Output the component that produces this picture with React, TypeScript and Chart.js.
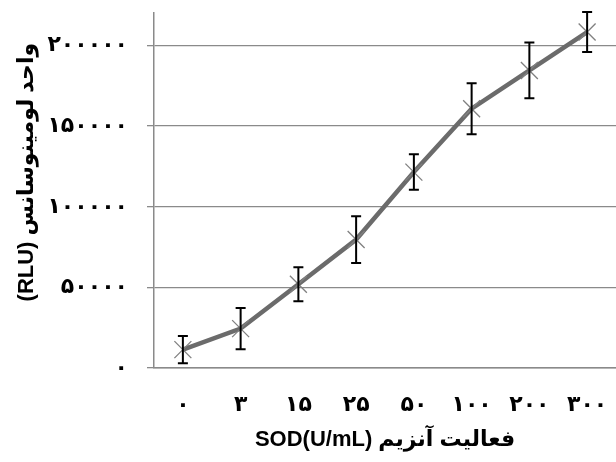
import React, { useEffect, useRef } from "react";
import { Chart, registerables } from "chart.js";

Chart.register(...registerables);

const categories = ["۰", "۳", "۱۵", "۲۵", "۵۰", "۱۰۰", "۲۰۰", "۳۰۰"];
const rluMeans = [11400, 24400, 51900, 79600, 121400, 160700, 184400, 208200];
const rluErrors = [8500, 12800, 10600, 14500, 11000, 15800, 17300, 12400];
const yTickValues = [0, 50000, 100000, 150000, 200000];
const yTickLabels = ["۰", "۵۰۰۰۰", "۱۰۰۰۰۰", "۱۵۰۰۰۰", "۲۰۰۰۰۰"];
const xTitle = "SOD(U/mL) فعالیت آنزیم";
const yTitle = "      (RLU) واحد لومینوسانس";

const FONT = "'Liberation Sans', 'DejaVu Sans', Arial, sans-serif";

const errorBarPlugin = {
  id: "errorBars",
  afterDatasetsDraw(chart: any) {
    const { ctx } = chart;
    const meta = chart.getDatasetMeta(0);
    const yScale = chart.scales.y;
    ctx.save();
    ctx.strokeStyle = "#000000";
    ctx.lineWidth = 2;
    meta.data.forEach((pt: any, i: number) => {
      const x = pt.x;
      const yTop = yScale.getPixelForValue(rluMeans[i] + rluErrors[i]);
      const yBot = yScale.getPixelForValue(rluMeans[i] - rluErrors[i]);
      const cap = 5;
      ctx.beginPath();
      ctx.moveTo(x, yTop);
      ctx.lineTo(x, yBot);
      ctx.moveTo(x - cap, yTop);
      ctx.lineTo(x + cap, yTop);
      ctx.moveTo(x - cap, yBot);
      ctx.lineTo(x + cap, yBot);
      ctx.stroke();
    });
    ctx.restore();
  },
};

export default function App() {
  const ref = useRef<HTMLCanvasElement>(null);
  useEffect(() => {
    if (!ref.current) return;
    const chart = new Chart(ref.current, {
      type: "line",
      data: {
        labels: categories,
        datasets: [
          {
            data: rluMeans,
            borderColor: "#6b6b6b",
            borderWidth: 4.5,
            pointStyle: "crossRot",
            pointRadius: 12,
            pointBorderWidth: 1.3,
            pointBorderColor: "#808080",
            pointBackgroundColor: "#808080",
            tension: 0,
            clip: false,
          },
        ],
      },
      options: {
        responsive: false,
        animation: false,
        layout: { autoPadding: false, padding: { top: 13, right: 0, left: 0, bottom: 0 } },
        plugins: {
          legend: { display: false },
          tooltip: { enabled: false },
        },
        scales: {
          x: {
            offset: true,
            grid: {
              display: true,
              drawOnChartArea: false,
              drawTicks: true,
              tickLength: 24,
              tickColor: "rgba(0,0,0,0)",
            },
            border: { display: true, color: "#8a8a8a", width: 1.5 },
            ticks: {
              padding: 0,
              color: "#000",
              font: { family: FONT, size: 22, weight: "bold" },
            },
            title: {
              display: true,
              text: xTitle,
              color: "#000",
              font: { family: FONT, size: 22, weight: "bold" },
              padding: { top: 4, bottom: 9 },
            },
            afterFit: (scale: any) => {
              scale.height = 94;
              scale.paddingLeft = 0;
              scale.paddingRight = 0;
            },
          },
          y: {
            min: 0,
            max: 220000,
            afterBuildTicks: (scale: any) => {
              scale.ticks = yTickValues.map((v) => ({ value: v }));
            },
            grid: { color: "#8a8a8a", lineWidth: 1.3, tickLength: 7, drawTicks: true },
            border: { display: true, color: "#8a8a8a", width: 1.5 },
            ticks: {
              padding: 19,
              color: "#000",
              font: { family: FONT, size: 22, weight: "bold" },
              callback: (_v: any, i: number) => yTickLabels[i],
            },
            title: {
              display: true,
              text: yTitle,
              color: "#000",
              font: { family: FONT, size: 22, weight: "bold" },
              padding: { top: 14, bottom: 0 },
            },
            afterFit: (scale: any) => {
              scale.width = 154;
              scale.paddingTop = 0;
              scale.paddingBottom = 0;
            },
          },
        },
      },
      plugins: [errorBarPlugin],
    });
    return () => chart.destroy();
  }, []);
  return (
    <div style={{ position: "absolute", left: 0, top: 0, width: 616, height: 462, background: "#fff" }}>
      <canvas ref={ref} width={616} height={462} />
    </div>
  );
}
